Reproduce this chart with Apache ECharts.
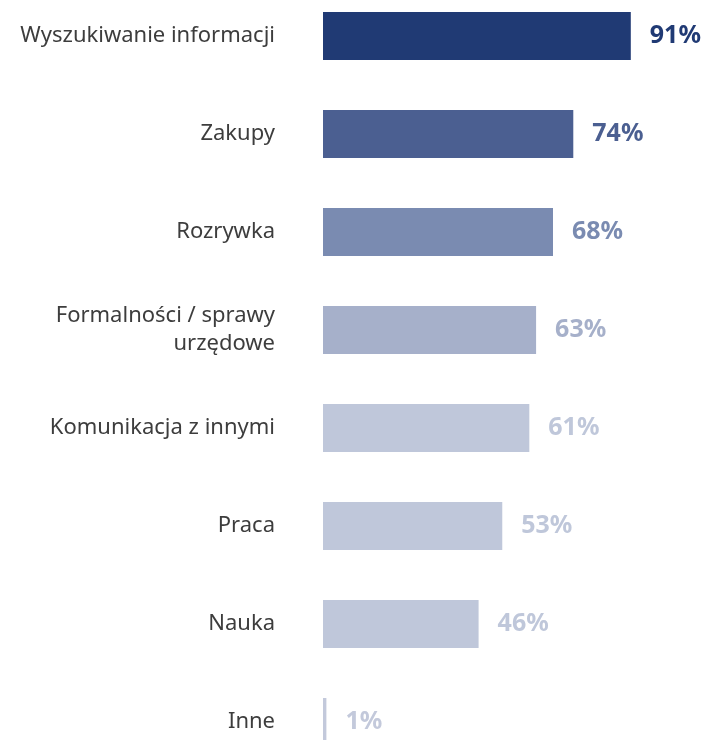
<!DOCTYPE html>
<html>
<head>
<meta charset="utf-8">
<script src="https://cdn.jsdelivr.net/npm/echarts@6/dist/echarts.min.js"></script>
<style>
html, body { margin: 0; padding: 0; background: #fff; }
#chart { width: 710px; height: 740px; }
</style>
</head>
<body>
	<div id="chart"></div>
	<script>
	// dane z wykresu (kolejność od góry)
	var categories = ["Wyszukiwanie informacji", "Zakupy", "Rozrywka", "Formalności / sprawy\nurzędowe", "Komunikacja z innymi", "Praca", "Nauka", "Inne"];
	var values = [91, 74, 68, 63, 61, 53, 46, 1];

	var colors = ["#203a74", "#4b5f91", "#7a8bb1", "#a6b0ca", "#bfc7da", "#bfc7da", "#bfc7da", "#c3c9db"];

	var t = echarts.init(document.getElementById("chart")), n = {
		animation: false,
		grid: {
			left: 323,
			right: 42,
			top: 36,
			bottom: 18
		},
		xAxis: {
			type: "value",
			min: 0,
			max: 102,
			show: false
		},
		yAxis: {
			type: "category",
			inverse: true,
			boundaryGap: false,
			data: categories,
			axisLine: { show: false },
			axisTick: { show: false },
			axisLabel: {
				margin: 48,
				fontFamily: "Noto Sans",
				fontSize: 22,
				lineHeight: 28,
				color: "#3d3d3d",
				align: "right"
			}
		},
		series: [{
			type: "bar",
			barWidth: 48,
			clip: false,
			data: values.map(function (v, i) {
				return { value: v, itemStyle: { color: colors[i] }, label: { color: colors[i] } };
			}),
			label: {
				show: true,
				position: "right",
				distance: 19,
				fontFamily: "Noto Sans",
				fontWeight: "bold",
				fontSize: 25,
				formatter: "{c}%"
			}
		}]
	};
	t.setOption(n), window.onresize = t.resize;
	</script>
</body>
</html>
